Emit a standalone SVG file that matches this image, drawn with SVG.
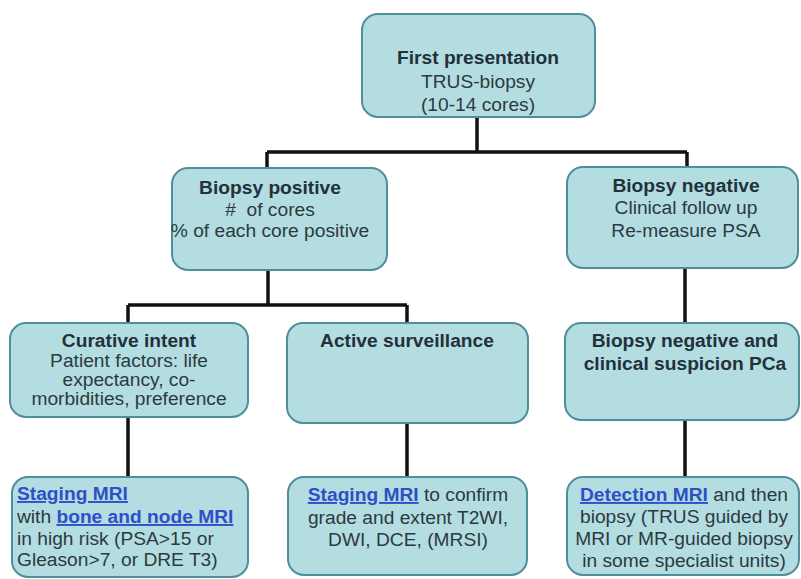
<svg xmlns="http://www.w3.org/2000/svg" width="801" height="579" viewBox="0 0 801 579">
<style>
.box{fill:#b3dde1;stroke:#4f8f9c;stroke-width:2}
.t{font-family:"Liberation Sans",Arial,sans-serif;font-size:19.2px;fill:#2b3a40;text-anchor:middle}
.l{text-anchor:start}
.b{font-weight:bold;fill:#22313a}
.a{fill:#2f4fc8;text-decoration:underline;font-weight:bold}
.c{fill:none;stroke:#111;stroke-width:3.5}
</style>
<rect width="801" height="579" fill="#fff"/>
<g id="connectors">
<path class="c" d="M477 117V152M267 152H687M267 152V168M687 152V168"/>
<path class="c" d="M268 270V305M128 305H407M128 305V323M407 305V323"/>
<path class="c" d="M685 268V323"/>
<path class="c" d="M128 417V477M407 423V477M685 420V477"/>
</g>
<g id="first">
<rect class="box" x="362" y="14" width="233" height="103" rx="16"/>
<text class="t b" x="478" y="64">First presentation</text>
<text class="t" x="478" y="88">TRUS-biopsy</text>
<text class="t" x="478" y="111">(10-14 cores)</text>
</g>
<g id="positive">
<rect class="box" x="172" y="168" width="215" height="102" rx="16"/>
<text class="t b" x="270" y="194">Biopsy positive</text>
<text class="t" x="270" y="216"># &#160;of cores</text>
<text class="t" x="270" y="237">% of each core positive</text>
</g>
<g id="negative">
<rect class="box" x="567" y="167" width="231" height="101" rx="16"/>
<text class="t b" x="686" y="192">Biopsy negative</text>
<text class="t" x="686" y="214">Clinical follow up</text>
<text class="t" x="686" y="237">Re-measure PSA</text>
</g>
<g id="curative">
<rect class="box" x="10" y="323" width="238" height="94" rx="16"/>
<text class="t b" x="129" y="347">Curative intent</text>
<text class="t" x="129" y="367">Patient factors: life</text>
<text class="t" x="129" y="386">expectancy, co-</text>
<text class="t" x="129" y="405">morbidities, preference</text>
</g>
<g id="surveillance">
<rect class="box" x="287" y="323" width="241" height="100" rx="16"/>
<text class="t b" x="407" y="347">Active surveillance</text>
</g>
<g id="suspicion">
<rect class="box" x="565" y="323" width="234" height="97" rx="16"/>
<text class="t b" x="685" y="347">Biopsy negative and</text>
<text class="t b" x="685" y="370">clinical suspicion PCa</text>
</g>
<g id="staging">
<rect class="box" x="12" y="477" width="236" height="100" rx="16"/>
<text class="t l" x="17" y="500"><tspan class="a">Staging MRI</tspan></text>
<text class="t l" x="17" y="523">with <tspan class="a">bone and node MRI</tspan></text>
<text class="t l" x="17" y="545">in high risk (PSA&gt;15 or</text>
<text class="t l" x="17" y="566">Gleason&gt;7, or DRE T3)</text>
</g>
<g id="confirm">
<rect class="box" x="288" y="477" width="239" height="98" rx="16"/>
<text class="t" x="408" y="501"><tspan class="a">Staging MRI</tspan> to confirm</text>
<text class="t" x="408" y="524">grade and extent T2WI,</text>
<text class="t" x="408" y="546">DWI, DCE, (MRSI)</text>
</g>
<g id="detection">
<rect class="box" x="567" y="477" width="232" height="98" rx="16"/>
<text class="t" x="684" y="501"><tspan class="a">Detection MRI</tspan> and then</text>
<text class="t" x="684" y="523">biopsy (TRUS guided by</text>
<text class="t" x="684" y="545">MRI or MR-guided biopsy</text>
<text class="t" x="684" y="567">in some specialist units)</text>
</g>
</svg>
